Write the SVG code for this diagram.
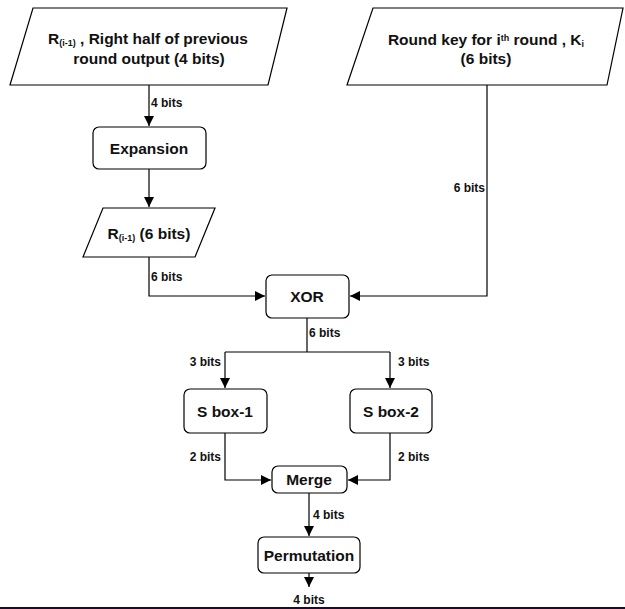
<svg xmlns="http://www.w3.org/2000/svg" width="625" height="609" viewBox="0 0 625 609">
<style>
.shape{fill:#fff;stroke:#000;stroke-width:1.2}
.t{font-family:"Liberation Sans",Arial,sans-serif;font-weight:bold;font-size:15.5px;fill:#111;text-anchor:middle}
.l{font-family:"Liberation Sans",Arial,sans-serif;font-weight:bold;font-size:12px;fill:#111}
.c{fill:none;stroke:#000;stroke-width:1.2}
.sub{font-size:9px}
</style>
<defs>
<marker id="ah" viewBox="0 0 10 10" refX="10" refY="5" markerWidth="10" markerHeight="10" markerUnits="userSpaceOnUse" orient="auto">
<path d="M0,0 L10,5 L0,10 z" fill="#000"/>
</marker>
</defs>
<rect width="625" height="609" fill="#fff"/>
<g id="connectors">
<path class="c" d="M149,85 V126" marker-end="url(#ah)"/>
<path class="c" d="M149,169 V207" marker-end="url(#ah)"/>
<path class="c" d="M149,257 V296 H265" marker-end="url(#ah)"/>
<path class="c" d="M487,85 V296 H350" marker-end="url(#ah)"/>
<path class="c" d="M307,318 V352"/>
<path class="c" d="M225,352 H390"/>
<path class="c" d="M225,352 V388" marker-end="url(#ah)"/>
<path class="c" d="M390,352 V388" marker-end="url(#ah)"/>
<path class="c" d="M225,433 V480 H271" marker-end="url(#ah)"/>
<path class="c" d="M390,433 V480 H348" marker-end="url(#ah)"/>
<path class="c" d="M309,493 V536" marker-end="url(#ah)"/>
<path class="c" d="M309,573 V587" marker-end="url(#ah)"/>
<text class="l" x="151" y="107">4 bits</text>
<text class="l" x="151" y="281">6 bits</text>
<text class="l" x="485" y="192" text-anchor="end">6 bits</text>
<text class="l" x="309" y="337">6 bits</text>
<text class="l" x="221" y="366" text-anchor="end">3 bits</text>
<text class="l" x="398" y="366">3 bits</text>
<text class="l" x="221" y="461" text-anchor="end">2 bits</text>
<text class="l" x="398" y="461">2 bits</text>
<text class="l" x="313" y="519">4 bits</text>
<text class="l" x="309" y="604" text-anchor="middle">4 bits</text>
</g>
<g id="input-r">
<polygon class="shape" points="33,8 287,8 268,85 10,85"/>
<text class="t" x="148" y="44">R<tspan class="sub" dy="2">(i-1)</tspan><tspan dy="-2"> , Right half of previous</tspan></text>
<text class="t" x="149" y="64">round output (4 bits)</text>
</g>
<g id="input-key">
<polygon class="shape" points="373,8 623,8 607,85 347,85"/>
<text class="t" x="486" y="45">Round key for i<tspan class="sub" dy="-4">th</tspan><tspan dy="4"> round , K</tspan><tspan class="sub" dy="2">i</tspan></text>
<text class="t" x="486" y="64">(6 bits)</text>
</g>
<g id="expansion">
<rect class="shape" x="93" y="127" width="113" height="42" rx="6"/>
<text class="t" x="149" y="154">Expansion</text>
</g>
<g id="r6">
<polygon class="shape" points="103,208 215,208 195,257 83,257"/>
<text class="t" x="149" y="239">R<tspan class="sub" dy="2">(i-1)</tspan><tspan dy="-2"> (6 bits)</tspan></text>
</g>
<g id="xor">
<rect class="shape" x="266" y="275" width="83" height="43" rx="6"/>
<text class="t" x="307" y="302">XOR</text>
</g>
<g id="sbox1">
<rect class="shape" x="184" y="389" width="83" height="44" rx="6"/>
<text class="t" x="225" y="417">S box-1</text>
</g>
<g id="sbox2">
<rect class="shape" x="350" y="389" width="82" height="44" rx="6"/>
<text class="t" x="391" y="417">S box-2</text>
</g>
<g id="merge">
<rect class="shape" x="272" y="466" width="75" height="27" rx="6"/>
<text class="t" x="309" y="485">Merge</text>
</g>
<g id="permutation">
<rect class="shape" x="258" y="537" width="102" height="36" rx="6"/>
<text class="t" x="309" y="561">Permutation</text>
</g>
<rect x="0" y="607" width="625" height="2" fill="#1e0a2c"/>
</svg>
